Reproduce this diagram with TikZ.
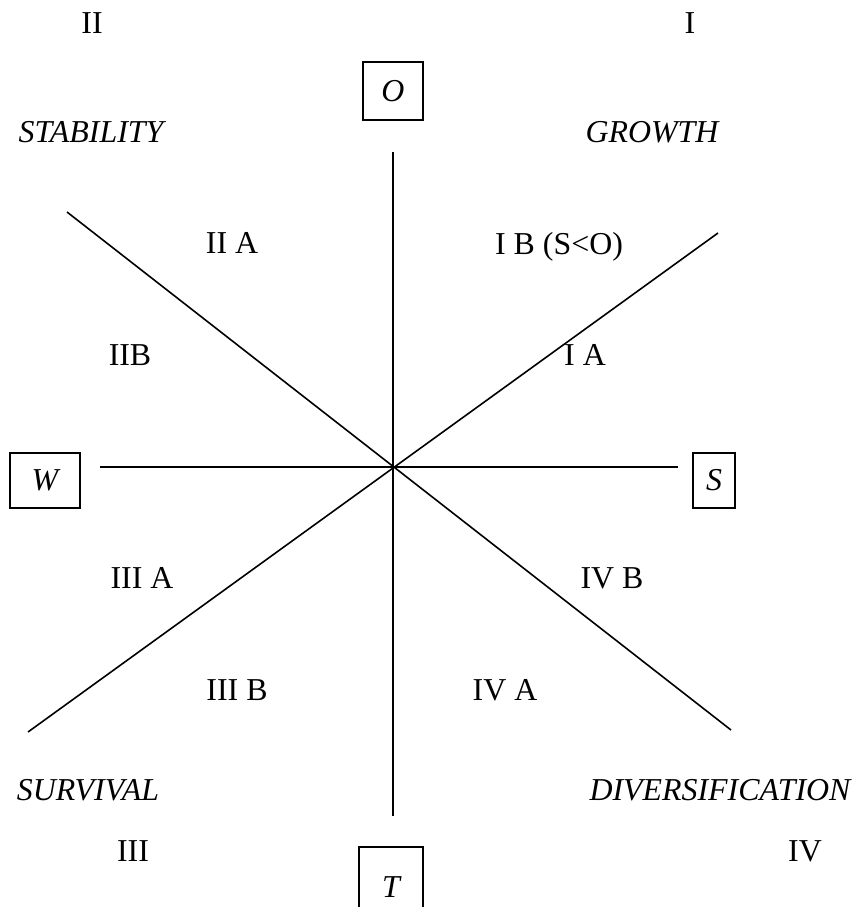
\documentclass[tikz,border=0pt]{standalone}
\usepackage{fontspec}
\setmainfont{Liberation Serif}
\usetikzlibrary{positioning}

\begin{document}
\begin{tikzpicture}[
    x=1bp, y=-1bp, line width=1.6bp,
    every node/.style={font=\fontsize{32}{38}\selectfont},
    axisbox/.style={draw, line width=2bp, inner sep=0pt, font=\fontsize{32}{38}\selectfont\itshape},
    zone/.style={anchor=base},
    strategy/.style={anchor=base, font=\fontsize{32}{38}\selectfont\itshape}
]
    \useasboundingbox (0,0) rectangle (859,907);

    % axes
    \coordinate (c) at (393,467);
    \coordinate (n) at (393,152);
    \coordinate (s) at (393,816);
    \coordinate (w) at (100,467);
    \coordinate (e) at (678,467);
    \coordinate (nw) at (67,212);
    \coordinate (se) at (731,730);
    \coordinate (ne) at (718,233);
    \coordinate (sw) at (28,732);

    \draw (n) -- (s);
    \draw (w) -- (e);
    \draw (nw) -- (se);
    \draw (ne) -- (sw);

    % boxes
    \node[axisbox, minimum width=60bp, minimum height=58bp] (O) at (393,91) {O};
    \node[axisbox, minimum width=70bp, minimum height=55bp] (W) at (45,480) {W};
    \node[axisbox, minimum width=42bp, minimum height=55bp] (S) at (714,480) {S};
    \node[axisbox, minimum width=64bp, minimum height=80bp] (T) at (391,887) {T};

    % quadrants
    \node[zone] (q2) at (92,33) {II};
    \node[zone] (q1) at (690,33) {I};
    \node[zone] (q3) at (133,861) {III};
    \node[zone] (q4) at (805,861) {IV};

    \node[strategy] (stab) at (91,142) {STABILITY};
    \node[strategy] (grow) at (652,142) {GROWTH};
    \node[strategy] (surv) at (88,800) {SURVIVAL};
    \node[strategy] (divr) at (720,800) {DIVERSIFICATION};

    % sectors
    \node[zone] (s2a) at (232,253) {II A};
    \node[zone] (s1b) at (559,254) {I B (S<O)};
    \node[zone] (s2b) at (130,365) {IIB};
    \node[zone] (s1a) at (585,365) {I A};
    \node[zone] (s3a) at (142,588) {III A};
    \node[zone] (s4b) at (612,588) {IV B};
    \node[zone] (s3b) at (237,700) {III B};
    \node[zone] (s4a) at (505,700) {IV A};
\end{tikzpicture}
\end{document}
